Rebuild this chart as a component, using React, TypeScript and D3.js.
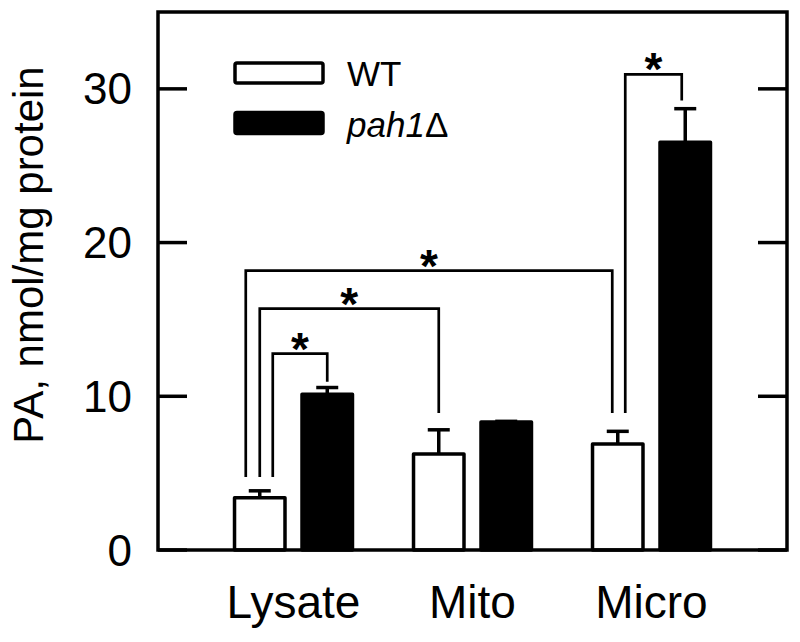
import React from "react";
import * as d3 from "d3";

// ---- data ----
const categories = ["Lysate", "Mito", "Micro"];
const seriesNames = ["WT", "pah1"];
const wtValues = [3.4, 6.25, 6.9];
const wtErrors = [0.45, 1.57, 0.82];
const pahValues = [10.14, 8.32, 26.53];
const pahErrors = [0.43, 0.05, 2.18];
const yTicks = [0, 10, 20, 30];

// significance brackets: endpoints (category, series) and heights in data units
const bracketFrom = [["Lysate", "WT"], ["Lysate", "WT"], ["Lysate", "WT"], ["Micro", "WT"]];
const bracketTo = [["Lysate", "pah1"], ["Mito", "WT"], ["Micro", "WT"], ["Micro", "pah1"]];
const bracketFromLevel = [4.75, 4.75, 4.75, 8.92];
const bracketToLevel = [10.94, 8.92, 8.92, 29.25];
const bracketTopLevel = [12.77, 15.7, 18.18, 30.94];
const bracketLabel = ["*", "*", "*", "*"];

// ---- layout (pixels) ----
const W = 800;
const H = 642;
const left = 158;
const right = 787;
const top = 12;
const bottom = 550;
const bracketFromShift = [13, 0, -14, 7.5];
const bracketToShift = [0, 0, -5.5, -3.5];
const FONT = "'Liberation Sans', Arial, Helvetica, sans-serif";

export default function App() {
  const x0 = d3
    .scaleBand<string>()
    .domain(categories)
    .range([left, right])
    .paddingInner(0.341)
    .paddingOuter(0.4275);
  const x1 = d3
    .scaleBand<string>()
    .domain(seriesNames)
    .range([0, x0.bandwidth()])
    .paddingInner(0.252)
    .paddingOuter(0);
  const y = d3.scaleLinear().domain([0, 35]).range([bottom, top]);

  const bw = x1.bandwidth();
  const cx = (cat: string, s: string) => (x0(cat) as number) + (x1(s) as number) + bw / 2;

  const bars: { cat: string; s: string; v: number; e: number }[] = [];
  categories.forEach((c, i) => {
    bars.push({ cat: c, s: "WT", v: wtValues[i], e: wtErrors[i] });
    bars.push({ cat: c, s: "pah1", v: pahValues[i], e: pahErrors[i] });
  });

  const tickLen = 29;
  const capHalf = 11;

  return (
    <svg width={W} height={H} style={{ display: "block", position: "absolute", left: 0, top: 0 }}>
      <rect x={0} y={0} width={W} height={H} fill="#fff" />
      {/* bars */}
      {bars.map((b, i) => {
        const xc = cx(b.cat, b.s);
        return (
          <g key={i}>
            <line x1={xc} x2={xc} y1={y(b.v)} y2={y(b.v + b.e)} stroke="#000" strokeWidth={3.5} />
            <line
              x1={xc - capHalf}
              x2={xc + capHalf}
              y1={y(b.v + b.e)}
              y2={y(b.v + b.e)}
              stroke="#000"
              strokeWidth={3.5}
            />
            <rect
              x={xc - bw / 2}
              y={y(b.v)}
              width={bw}
              height={y(0) - y(b.v)}
              fill={b.s === "WT" ? "#fff" : "#000"}
              stroke="#000"
              strokeWidth={3.5}
              strokeLinejoin="round"
            />
          </g>
        );
      })}
      {/* brackets */}
      {bracketFrom.map((f, i) => {
        const t = bracketTo[i];
        const xa = cx(f[0], f[1]) + bracketFromShift[i];
        const xb = cx(t[0], t[1]) + bracketToShift[i];
        const yt = y(bracketTopLevel[i]);
        const d = `M${xa},${y(bracketFromLevel[i])}V${yt}H${xb}V${y(bracketToLevel[i])}`;
        return (
          <g key={"b" + i}>
            <path d={d} fill="none" stroke="#000" strokeWidth={2.7} />
            <text
              x={(xa + xb) / 2}
              y={yt - 15 + 26}
              textAnchor="middle"
              fontFamily={FONT}
              fontWeight="bold"
              fontSize={46}
            >
              {bracketLabel[i]}
            </text>
          </g>
        );
      })}
      {/* frame */}
      <rect
        x={left}
        y={top}
        width={right - left}
        height={bottom - top}
        fill="none"
        stroke="#000"
        strokeWidth={3.5}
      />
      {/* ticks */}
      {yTicks.map((t) => (
        <g key={"t" + t}>
          <line x1={left} x2={left + tickLen} y1={y(t)} y2={y(t)} stroke="#000" strokeWidth={3.5} />
          <line x1={right} x2={right - tickLen} y1={y(t)} y2={y(t)} stroke="#000" strokeWidth={3.5} />
          <text
            x={132}
            y={y(t) + 15.5}
            textAnchor="end"
            fontFamily={FONT}
            fontSize={44}
            fill="#000"
          >
            {t}
          </text>
        </g>
      ))}
      {/* x labels */}
      {categories.map((c) => (
        <text
          key={c}
          x={(x0(c) as number) + x0.bandwidth() / 2}
          y={618}
          textAnchor="middle"
          fontFamily={FONT}
          fontSize={46}
          fill="#000"
        >
          {c}
        </text>
      ))}
      {/* y title */}
      <text
        transform={`translate(43,255) rotate(-90)`}
        textAnchor="middle"
        fontFamily={FONT}
        fontSize={42}
        fill="#000"
      >
        PA, nmol/mg protein
      </text>
      {/* legend */}
      <rect x={235} y={63} width={88} height={20} fill="#fff" stroke="#000" strokeWidth={3.5} rx={2} />
      <text x={347} y={86} fontFamily={FONT} fontSize={35} fill="#000">
        WT
      </text>
      <rect x={235} y={112.5} width={88} height={21} fill="#000" stroke="#000" strokeWidth={3.5} rx={2} />
      <text x={347} y={137} fontFamily={FONT} fontSize={35} fill="#000">
        <tspan fontStyle="italic">pah1</tspan>
        <tspan>Δ</tspan>
      </text>
    </svg>
  );
}
